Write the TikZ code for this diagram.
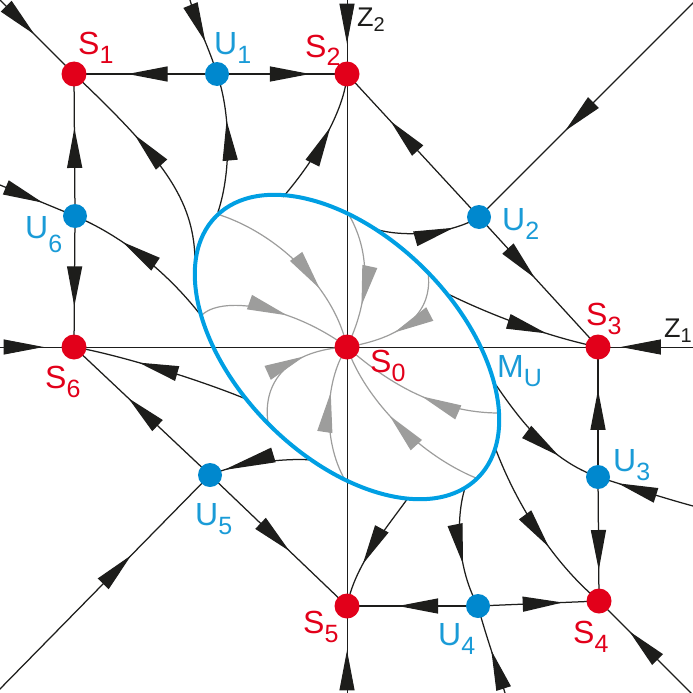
\documentclass[tikz,border=0pt]{standalone}
\usepackage{fontspec}
\setmainfont{Liberation Sans}
\usetikzlibrary{arrows.meta,decorations.markings}
\definecolor{sred}{HTML}{E2001A}
\definecolor{ublue}{HTML}{0088CE}
\definecolor{eblue}{HTML}{009FE3}
\definecolor{lblue}{HTML}{1A9BD7}
\definecolor{ink}{HTML}{1D1D1B}
\definecolor{gr}{HTML}{9D9D9C}
\newcommand\lbl[3][9pt]{#2\raisebox{-#1}{\fontsize{25}{25}\selectfont #3}}
\newcommand\zlbl[2]{#1\raisebox{-5pt}{\fontsize{20}{20}\selectfont #2}}
\tikzset{
  arrhead/.tip={Triangle[length=40pt,width=15pt]},
  traj/.style={color=ink, draw, line width=1.25pt, postaction={decorate},
    decoration={markings, mark=at position #1 with {\arrow{arrhead}}}},
  traj/.default=0.5,
  gtraj/.style={color=gr, draw, line width=1.2pt, postaction={decorate},
    decoration={markings, mark=at position #1 with {\arrow{arrhead}}}},
  gtraj/.default=0.5,
  axisline/.style={draw=ink, line width=0.9pt},
  sdot/.style={circle, fill=sred, minimum size=25pt, inner sep=0pt},
  udot/.style={circle, fill=ublue, minimum size=24pt, inner sep=0pt},
  slab/.style={anchor=base west, inner sep=0pt, text=sred, font=\fontsize{32}{32}\selectfont},
  ulab/.style={anchor=base west, inner sep=0pt, text=lblue, font=\fontsize{32}{32}\selectfont},
  zlab/.style={anchor=base west, inner sep=0pt, text=ink, font=\fontsize{27}{27}\selectfont},
}
\begin{document}
\begin{tikzpicture}[x=1pt,y=-1pt]
\useasboundingbox (0,0) rectangle (693,693);
\clip (0,0) rectangle (693,693);
% fixed points
\coordinate (S0) at (347,347);
\coordinate (S1) at (74,74);
\coordinate (S2) at (347,74);
\coordinate (S3) at (598,347);
\coordinate (S4) at (599,601);
\coordinate (S5) at (347,606);
\coordinate (S6) at (74,347);
\coordinate (U1) at (217,74);
\coordinate (U2) at (479,217);
\coordinate (U3) at (598,477);
\coordinate (U4) at (478,606);
\coordinate (U5) at (210,475);
\coordinate (U6) at (75,216);
% free ends on the frame
\coordinate (fS1) at (-5,-5);
\coordinate (fU1) at (190,0);
\coordinate (fS2) at (347,0);
\coordinate (fU2) at (700,-4);
\coordinate (fS3) at (693,347);
\coordinate (fU3) at (693,506);
\coordinate (fS4) at (700,702);
\coordinate (fU4) at (505,693);
\coordinate (fS5) at (347,693);
\coordinate (fU5) at (-3,692);
\coordinate (fS6) at (0,347);
\coordinate (fU6) at (0,185);
% free ends on the ellipse
\coordinate (ea) at (195,258);
\coordinate (eb) at (218,212);
\coordinate (ec) at (283,197);
\coordinate (ed) at (372,228);
\coordinate (ee) at (446,293);
\coordinate (ef) at (496,385);
\coordinate (eg) at (496,450);
\coordinate (eh) at (465,488);
\coordinate (ei) at (408,498);
\coordinate (ej) at (312,460);
\coordinate (ek) at (246,399);
\coordinate (el) at (199,313);
\coordinate (g1) at (220,215);
\coordinate (g2) at (201,316);
\coordinate (g3) at (349,215);
\coordinate (g4) at (428,272);
\coordinate (g5) at (499,413);
\coordinate (g6) at (476,478);
\coordinate (g7) at (345,480);
\coordinate (g8) at (268,423);

% axes
\draw[axisline] (S6) -- (S3);
\draw[axisline] (S2) -- (S5);
\draw[traj=0.59, line width=0.9pt] (fS6) -- (S6);
\draw[traj=0.76, line width=0.9pt] (fS3) -- (S3);
\draw[traj=0.59, line width=0.9pt] (fS2) -- (S2);
\draw[traj=0.49, line width=0.9pt] (fS5) -- (S5);

% black trajectories
\draw[traj=0.5] (fS1) -- (S1);
\draw[traj=0.62] (ea) .. controls (193,200) and (165,160) .. (S1);
\draw[traj=0.625] (U1) -- (S1);
\draw[traj=0.715] (U1) -- (S2);
\draw[traj=0.57] (fU1) .. controls (197,25) and (210,50) .. (U1);
\draw[traj=0.66] (eb) .. controls (232,170) and (230,110) .. (U1);
\draw[traj=0.6] (ec) .. controls (315,160) and (345,110) .. (S2);
\draw[traj=0.67] (U2) -- (S2);
\draw[traj=0.61] (fU2) -- (U2);
\draw[traj=0.47] (U2) -- (S3);
\draw[traj=0.75] (ed) .. controls (400,238) and (450,235) .. (U2);
\draw[traj=0.67] (ee) .. controls (480,310) and (540,335) .. (S3);
\draw[traj=0.67] (U3) -- (S3);
\draw[traj=0.75] (U3) -- (S4);
\draw[traj=0.79] (fU3) .. controls (660,497) and (630,487) .. (U3);
\draw[traj=0.68] (ef) .. controls (520,420) and (550,460) .. (U3);
\draw[traj=0.6] (eg) .. controls (515,500) and (550,560) .. (S4);
\draw[traj=0.70] (fS4) -- (S4);
\draw[traj=0.70] (U4) -- (S4);
\draw[traj=0.61] (U4) -- (S5);
\draw[traj=0.63] (eh) .. controls (455,520) and (458,570) .. (U4);
\draw[traj=0.49] (fU4) .. controls (498,670) and (484,630) .. (U4);
\draw[traj=0.64] (ei) .. controls (385,530) and (355,565) .. (S5);
\draw[traj=0.58] (U5) -- (S5);
\draw[traj=0.6] (U5) -- (S6);
\draw[traj=0.63] (fU5) -- (U5);
\draw[color=ink, line width=1.25pt, postaction={decorate},
  decoration={markings, mark=at position 0.86 with {\arrow{Triangle[length=52pt,width=15pt]}}}]
  (ej) .. controls (290,458) and (240,462) .. (U5);
\draw[traj=0.63] (ek) .. controls (200,380) and (120,355) .. (S6);
\draw[traj=0.62] (U6) -- (S1);
\draw[traj=0.69] (U6) -- (S6);
\draw[traj=0.57] (fU6) -- (U6);
\draw[traj=0.66] (el) .. controls (165,270) and (120,235) .. (U6);

% gray trajectories inside the ellipse
\draw[gtraj=0.66] (g1) .. controls (280,235) and (335,290) .. (S0);
\draw[gtraj=0.57] (g2) .. controls (220,295) and (290,305) .. (S0);
\draw[gtraj=0.68] (g3) .. controls (375,260) and (365,310) .. (S0);
\draw[gtraj=0.6] (g4) .. controls (432,300) and (420,335) .. (S0);
\draw[gtraj=0.47] (g5) .. controls (440,413) and (390,385) .. (S0);
\draw[gtraj=0.57] (g6) .. controls (420,455) and (365,400) .. (S0);
\draw[gtraj=0.65] (g7) .. controls (322,440) and (325,380) .. (S0);
\draw[gtraj=0.65] (g8) .. controls (262,380) and (290,350) .. (S0);

% ellipse M_U
\draw[eblue, line width=4pt, shift={(S0)}, rotate=-45] (0,0) ellipse [x radius=185pt, y radius=110pt];

% dots
\node[sdot] (dS0) at (S0) {};
\node[sdot] (dS1) at (S1) {};
\node[sdot] (dS2) at (S2) {};
\node[sdot] (dS3) at (S3) {};
\node[sdot] (dS4) at (S4) {};
\node[sdot] (dS5) at (S5) {};
\node[sdot] (dS6) at (S6) {};
\node[udot] (dU1) at (U1) {};
\node[udot] (dU2) at (U2) {};
\node[udot] (dU3) at (U3) {};
\node[udot] (dU4) at (U4) {};
\node[udot] (dU5) at (U5) {};
\node[udot] (dU6) at (U6) {};

% labels
\node[slab] (lS0) at (370,372) {\lbl{S}{0}};
\node[slab] (lS1) at (78,55) {\lbl{S}{1}};
\node[slab] (lS2) at (305,57) {\lbl{S}{2}};
\node[slab] (lS3) at (586,325) {\lbl{S}{3}};
\node[slab] (lS4) at (573,643) {\lbl{S}{4}};
\node[slab] (lS5) at (303,633) {\lbl{S}{5}};
\node[slab] (lS6) at (45,388) {\lbl{S}{6}};
\node[ulab] (lU1) at (214,55) {\lbl{U}{1}};
\node[ulab] (lU2) at (502,230) {\lbl{U}{2}};
\node[ulab] (lU3) at (613,471) {\lbl{U}{3}};
\node[ulab] (lU4) at (438,645) {\lbl{U}{4}};
\node[ulab] (lU5) at (195,525) {\lbl{U}{5}};
\node[ulab] (lU6) at (25,238) {\lbl[14pt]{U}{6}};
\node[ulab] (lMU) at (497,377) {\lbl{M}{U}};
\node[zlab] (lZ2) at (357,27) {\zlbl{Z}{2}};
\node[zlab] (lZ1) at (664,337) {\zlbl{Z}{1}};
\end{tikzpicture}
\end{document}
